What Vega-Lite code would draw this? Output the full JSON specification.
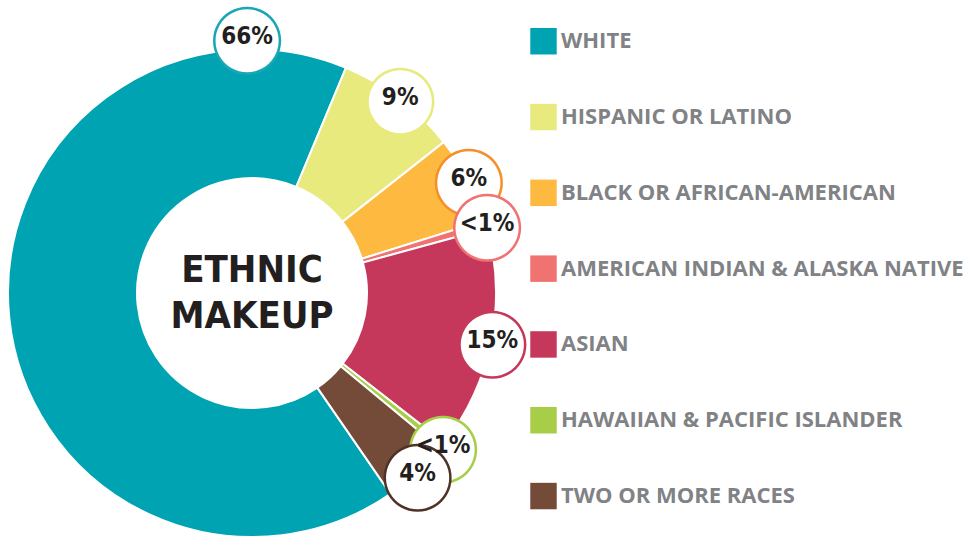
{
  "$schema": "https://vega.github.io/schema/vega-lite/v6.json",
  "width": 504,
  "height": 488,
  "autosize": {"type": "none"},
  "padding": {"left": 0, "top": 49, "right": 467, "bottom": 0},
  "background": "white",
  "config": {"view": {"stroke": null}},
  "data": {"values": [
    {"group": "WHITE", "value": 65.9, "label": "66%"},
    {"group": "HISPANIC OR LATINO", "value": 8.1, "label": "9%"},
    {"group": "BLACK OR AFRICAN-AMERICAN", "value": 5.8, "label": "6%"},
    {"group": "AMERICAN INDIAN & ALASKA NATIVE", "value": 0.55, "label": "<1%"},
    {"group": "ASIAN", "value": 14.8, "label": "15%"},
    {"group": "HAWAIIAN & PACIFIC ISLANDER", "value": 0.45, "label": "<1%"},
    {"group": "TWO OR MORE RACES", "value": 4.4, "label": "4%"}
  ]},
  "transform": [{"window": [{"op": "row_number", "as": "idx"}]}],
  "layer": [
    {
      "mark": {"type": "arc", "innerRadius": 115, "outerRadius": 244, "stroke": "white", "strokeWidth": 2},
      "encoding": {
        "theta": {"field": "value", "type": "quantitative", "stack": true, "scale": {"range": [2.5377, 8.8209]}},
        "order": {"field": "idx", "type": "quantitative"},
        "color": {
          "field": "group", "type": "nominal",
          "scale": {
            "domain": ["WHITE", "HISPANIC OR LATINO", "BLACK OR AFRICAN-AMERICAN", "AMERICAN INDIAN & ALASKA NATIVE", "ASIAN", "HAWAIIAN & PACIFIC ISLANDER", "TWO OR MORE RACES"],
            "range": ["#00A3B2", "#E8EA7E", "#FDB940", "#F07271", "#C6385B", "#A8CD48", "#744A38"]
          },
          "legend": {
            "title": null, "orient": "none", "legendX": 530, "legendY": -21.25,
            "symbolType": "square", "symbolSize": 700, "symbolStrokeWidth": 0,
            "labelFont": "Open Sans", "labelFontWeight": "bold", "labelFontSize": 22,
            "labelColor": "#808285", "labelLimit": 500, "labelOffset": 4,
            "rowPadding": 48.8, "padding": 0, "offset": 0,
            "encode": {"symbols": {"fill": {"value": {"expr": "scale('stroke', datum.value)"}}}}
          }
        }
      }
    },
    {
      "mark": {"type": "text", "text": "●", "font": "DejaVu Sans", "fontSize": 86, "radius": 245, "fill": "white", "strokeWidth": 2.5, "baseline": "middle", "align": "center"},
      "encoding": {
        "theta": {"field": "value", "type": "quantitative", "stack": true},
        "order": {"field": "idx", "type": "quantitative"},
        "stroke": {
          "field": "group", "type": "nominal",
          "scale": {
            "domain": ["WHITE", "HISPANIC OR LATINO", "BLACK OR AFRICAN-AMERICAN", "AMERICAN INDIAN & ALASKA NATIVE", "ASIAN", "HAWAIIAN & PACIFIC ISLANDER", "TWO OR MORE RACES"],
            "range": ["#00A3B2", "#E8EA7E", "#F68F2A", "#F07271", "#C6385B", "#A8CD48", "#4F3328"]
          },
          "legend": null
        },
        "opacity": {"condition": {"test": "datum.group === 'WHITE'", "value": 0}, "value": 1}
      }
    },
    {
      "mark": {"type": "text", "font": "DejaVu Sans Condensed, Roboto, sans-serif", "fontWeight": "bold", "fontSize": 24, "radius": 245, "color": "#231F20", "baseline": "middle", "align": "center"},
      "encoding": {
        "theta": {"field": "value", "type": "quantitative", "stack": true},
        "order": {"field": "idx", "type": "quantitative"},
        "text": {"field": "label", "type": "nominal"},
        "opacity": {"condition": {"test": "datum.group === 'WHITE'", "value": 0}, "value": 1}
      }
    },
    {
      "transform": [{"filter": "datum.group === 'WHITE'"}],
      "mark": {"type": "text", "text": "●", "font": "DejaVu Sans", "fontSize": 86, "radius": 256, "fill": "white", "stroke": "#1AA6B4", "strokeWidth": 2.5, "baseline": "middle", "align": "center"},
      "encoding": {
        "theta": {"datum": 59.3, "type": "quantitative"}
      }
    },
    {
      "transform": [{"filter": "datum.group === 'WHITE'"}],
      "mark": {"type": "text", "font": "DejaVu Sans Condensed, Roboto, sans-serif", "fontWeight": "bold", "fontSize": 24, "radius": 256, "color": "#231F20", "baseline": "middle", "align": "center"},
      "encoding": {
        "theta": {"datum": 59.3, "type": "quantitative"},
        "text": {"field": "label", "type": "nominal"}
      }
    },
    {
      "transform": [{"filter": "datum.group === 'WHITE'"}],
      "mark": {"type": "text", "text": ["ETHNIC", "MAKEUP"], "font": "DejaVu Sans Condensed, Roboto, sans-serif", "fontWeight": "bold", "fontSize": 38, "lineHeight": 46, "dy": -22, "color": "#231F20", "baseline": "middle", "align": "center"},
      "encoding": {}
    }
  ]
}
